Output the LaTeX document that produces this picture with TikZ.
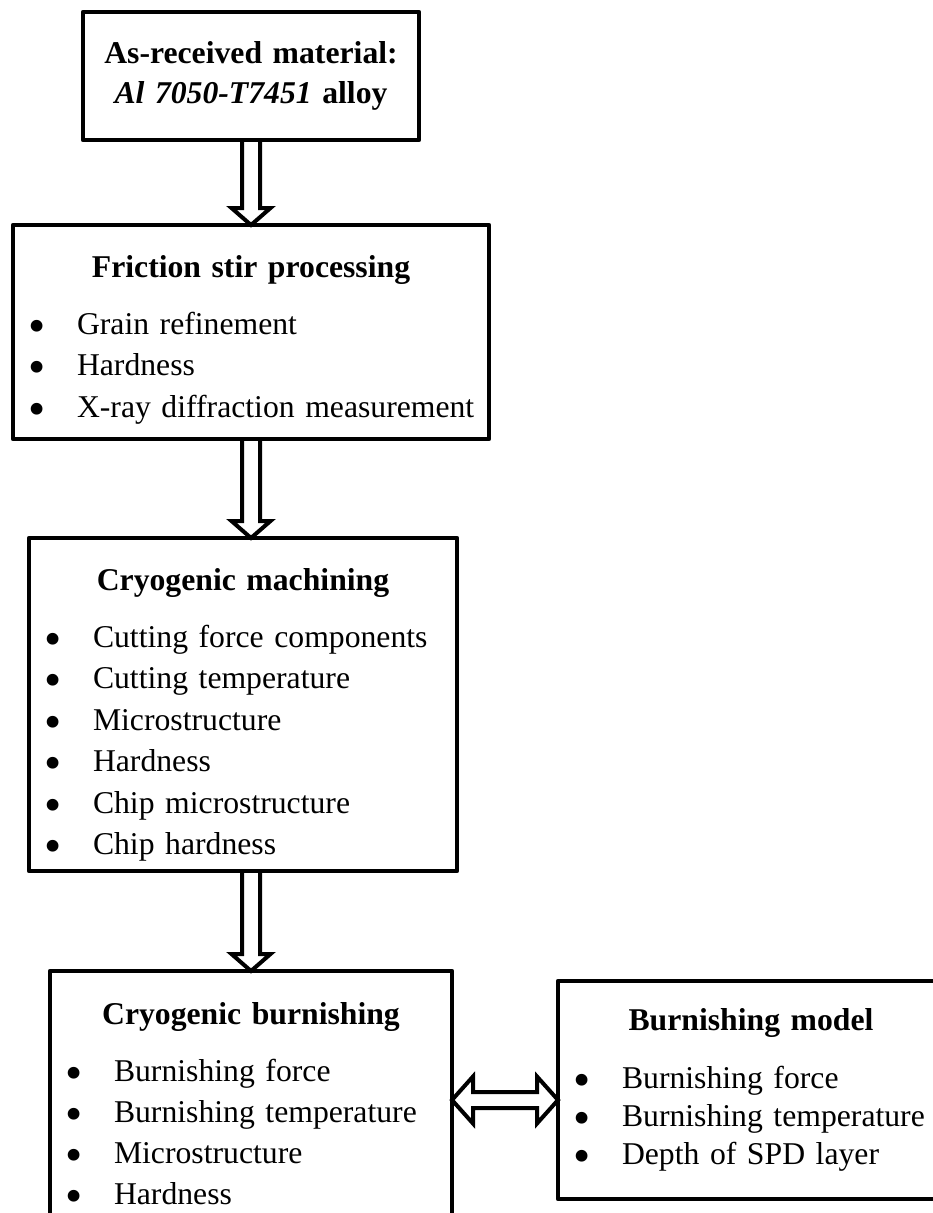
\documentclass[tikz,border=0pt]{standalone}
\usepackage{graphicx}
\usepackage{fontspec}
\setmainfont{Liberation Serif}
\usetikzlibrary{positioning,calc}

\newcommand{\bulitem}[1]{\makebox[49pt][l]{\smash{\raisebox{-8pt}{\scalebox{1.55}{\textbullet}}}}\mbox{#1}\par}

\begin{document}
\begin{tikzpicture}[x=1pt,y=-1pt,
    procbox/.style={draw, rectangle, line width=4.5pt, line join=round,
      inner xsep=15pt, inner ysep=0pt, outer sep=0pt,
      font=\fontsize{31.7}{41.5}\selectfont},
    blockarrow/.style={draw, line width=4pt, line join=miter}]
    \useasboundingbox (0,0) rectangle (933,1213);

    \node[procbox, text width=306pt, text height=51pt, text depth=77pt,
      font=\fontsize{31.7}{40}\selectfont] (asrec) at (251,76)
      {{\centering\bfseries As-received material:\\ \textit{Al 7050-T7451} alloy\par}};
    \node[procbox, text width=446pt, text height=52pt, text depth=162pt,
      below=85pt of asrec] (fsp)
      {{\centering\bfseries Friction stir processing\par}\vspace{15.5pt}
       \bulitem{Grain refinement}\bulitem{Hardness}\bulitem{X-ray diffraction measurement}};
    \node[procbox, text width=398pt, text height=52pt, text depth=281pt,
      below=99pt of fsp, xshift=-8pt] (cryomach)
      {{\centering\bfseries Cryogenic machining\par}\vspace{15.5pt}
       \bulitem{Cutting force components}\bulitem{Cutting temperature}
       \bulitem{Microstructure}\bulitem{Hardness}
       \bulitem{Chip microstructure}\bulitem{Chip hardness}};
    \node[procbox, text width=372pt, text height=53pt, text depth=205pt,
      font=\fontsize{31.7}{41}\selectfont,
      below=100pt of cryomach, xshift=8pt] (cryoburn)
      {{\centering\bfseries Cryogenic burnishing\par}\vspace{16pt}
       \bulitem{Burnishing force}\bulitem{Burnishing temperature}
       \bulitem{Microstructure}\bulitem{Hardness}};
    \node[procbox, text width=356pt, text height=49pt, text depth=169pt,
      font=\fontsize{31.7}{38}\selectfont,
      below right=10pt and 106pt of cryoburn.north east] (burnmodel)
      {{\centering\bfseries Burnishing model\par}\vspace{20pt}
       \bulitem{Burnishing force}\bulitem{Burnishing temperature}
       \bulitem{Depth of SPD layer}};

    % hollow arrows between the stages
    \draw[blockarrow] ($(asrec.south)+(-9,0)$) -- ($(fsp.north)+(-9,-17)$)
      -- ($(fsp.north)+(-19.5,-17)$) -- (fsp.north) -- ($(fsp.north)+(19.5,-17)$)
      -- ($(fsp.north)+(9,-17)$) -- ($(asrec.south)+(9,0)$);
    \draw[blockarrow] ($(fsp.south)+(-9,0)$) -- ($(fsp.south |- cryomach.north)+(-9,-17)$)
      -- ($(fsp.south |- cryomach.north)+(-19.5,-17)$) -- (fsp.south |- cryomach.north)
      -- ($(fsp.south |- cryomach.north)+(19.5,-17)$)
      -- ($(fsp.south |- cryomach.north)+(9,-17)$) -- ($(fsp.south)+(9,0)$);
    \draw[blockarrow] ($(cryoburn.north |- cryomach.south)+(-9,0)$) -- ($(cryoburn.north)+(-9,-17)$)
      -- ($(cryoburn.north)+(-19.5,-17)$) -- (cryoburn.north) -- ($(cryoburn.north)+(19.5,-17)$)
      -- ($(cryoburn.north)+(9,-17)$) -- ($(cryoburn.north |- cryomach.south)+(9,0)$);

    % two-way arrow to the model
    \coordinate (mw) at (cryoburn.east -| burnmodel.west);
    \draw[blockarrow] (cryoburn.east) -- ($(cryoburn.east)+(21,-23.5)$) -- ($(cryoburn.east)+(21,-8)$)
      -- ($(mw)+(-21,-8)$) -- ($(mw)+(-21,-23.5)$) -- (mw) -- ($(mw)+(-21,23.5)$)
      -- ($(mw)+(-21,8)$) -- ($(cryoburn.east)+(21,8)$) -- ($(cryoburn.east)+(21,23.5)$) -- cycle;
\end{tikzpicture}
\end{document}
